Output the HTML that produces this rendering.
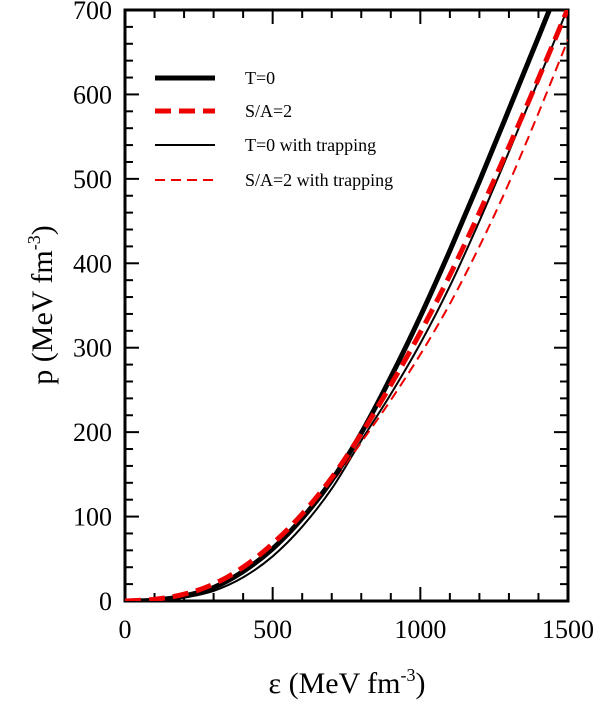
<!DOCTYPE html>
<html><head><meta charset="utf-8"><style>
body{margin:0;background:#fff}
text{font-family:"Liberation Serif",serif;fill:#000}
</style></head><body>
<svg id="chart" width="601" height="701" xmlns="http://www.w3.org/2000/svg">
<g id="axes"></g><g id="series"></g>
<g>
<line x1="155" y1="78" x2="215" y2="78" stroke="#000" stroke-width="5"/>
<text x="245" y="84" font-size="18">T=0</text>
<line x1="155" y1="111" x2="215" y2="111" stroke="#e00" stroke-width="5" stroke-dasharray="16,8"/>
<text x="245" y="117" font-size="18">S/A=2</text>
<line x1="155" y1="145" x2="215" y2="145" stroke="#000" stroke-width="2"/>
<text x="245" y="151" font-size="18">T=0 with trapping</text>
<line x1="155" y1="180" x2="215" y2="180" stroke="#e00" stroke-width="2" stroke-dasharray="10,6"/>
<text x="245" y="186" font-size="18">S/A=2 with trapping</text>
</g>
<text x="347" y="693" font-size="30" text-anchor="middle">ε (MeV fm<tspan dy="-12" font-size="18">-3</tspan><tspan dy="12">)</tspan></text>
<text transform="translate(52,305) rotate(-90)" font-size="30" text-anchor="middle">p (MeV fm<tspan dy="-12" font-size="18">-3</tspan><tspan dy="12">)</tspan></text>
</svg>
<script>
const eps=[0,100,200,300,400,500,600,700,800,900,1000,1100,1200,1300,1400,1500];
const pT0=[0,1,6,16,35,62,98,143,199,265,337,415,497,582,668,755];
const pSA2=[0,2,8,20,40,68,103,146,198,256,318,386,460,538,619,702];
const pT0trap=[0,0.5,4,12,28,53,88,133,190,245,305,373,450,532,617,703];
const pSA2trap=[0,1,6,17,36,60,96,140,188,238,292,352,420,495,578,665];
const xTicks=[0,500,1000,1500];
const yTicks=[0,100,200,300,400,500,600,700];
const L=125,R=568,T=10,B=601;
const X=v=>L+(v/1500)*(R-L), Y=v=>B-(v/700)*(B-T);
const NS="http://www.w3.org/2000/svg";
function mk(tag,attrs,parent){const e=document.createElementNS(NS,tag);for(const k in attrs)e.setAttribute(k,attrs[k]);parent.appendChild(e);return e;}
const ax=document.getElementById('axes');
const frame=mk('rect',{x:L,y:T,width:R-L,height:B-T,fill:'none',stroke:'#000','stroke-width':3},ax);


for(let v=0;v<=1500;v+=100){const len=v%500===0?14:8;
mk('line',{x1:X(v),y1:B,x2:X(v),y2:B-len,stroke:'#000','stroke-width':2},ax);
mk('line',{x1:X(v),y1:T,x2:X(v),y2:T+len,stroke:'#000','stroke-width':2},ax);}
for(let v=0;v<=700;v+=20){const len=v%100===0?14:8;
mk('line',{x1:L,y1:Y(v),x2:L+len,y2:Y(v),stroke:'#000','stroke-width':2},ax);
mk('line',{x1:R,y1:Y(v),x2:R-len,y2:Y(v),stroke:'#000','stroke-width':2},ax);}
xTicks.forEach(v=>{const t=mk('text',{x:X(v),y:638,'font-size':26,'text-anchor':'middle'},ax);t.textContent=v;

});
yTicks.forEach(v=>{const t=mk('text',{x:112,y:Y(v)+9,'font-size':26,'text-anchor':'end'},ax);t.textContent=v;

});
const sg=document.getElementById('series');
const clip=mk('clipPath',{id:'cp'},sg);mk('rect',{x:L,y:T,width:R-L,height:B-T},clip);
function line(vals,color,w,dash,name){
const P=vals.map((v,i)=>[X(eps[i]),Y(v)]);
let d='M'+P[0][0].toFixed(1)+','+P[0][1].toFixed(1);
for(let i=0;i<P.length-1;i++){
const p0=P[Math.max(0,i-1)],p1=P[i],p2=P[i+1],p3=P[Math.min(P.length-1,i+2)];
const c1=[p1[0]+(p2[0]-p0[0])/6,p1[1]+(p2[1]-p0[1])/6];
const c2=[p2[0]-(p3[0]-p1[0])/6,p2[1]-(p3[1]-p1[1])/6];
d+=' C'+c1[0].toFixed(1)+','+c1[1].toFixed(1)+' '+c2[0].toFixed(1)+','+c2[1].toFixed(1)+' '+p2[0].toFixed(1)+','+p2[1].toFixed(1);}
const p=mk('path',{d:d,fill:'none',stroke:color,'stroke-width':w,'clip-path':'url(#cp)'},sg);
if(dash)p.setAttribute('stroke-dasharray',dash);

}
line(pT0trap,'#000',2,null,'line-t0-trapping');
line(pSA2trap,'#e00',2,'10,6','line-sa2-trapping');
line(pT0,'#000',5,null,'line-t0');
line(pSA2,'#e00',5,'16,8','line-sa2');
</script>
</body></html>
